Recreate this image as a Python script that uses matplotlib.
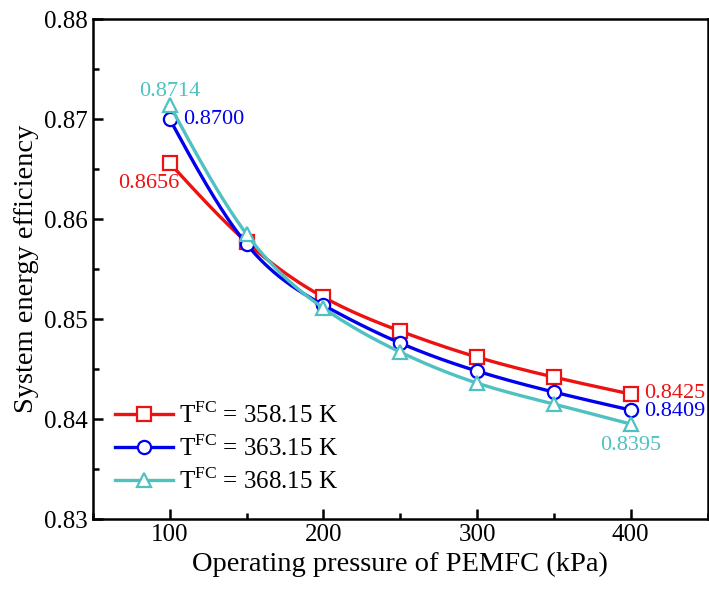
import numpy as np
import matplotlib.pyplot as plt
from matplotlib.ticker import MultipleLocator

plt.rcParams['font.family'] = ['Liberation Serif', 'DejaVu Serif']
plt.rcParams['mathtext.fontset'] = 'custom'
plt.rcParams['mathtext.rm'] = 'Liberation Serif'

# Data
pressure = [100, 150, 200, 250, 300, 350, 400]
eff_358 = [0.8656, 0.8577, 0.8522, 0.8488, 0.8462, 0.8442, 0.8425]
eff_363 = [0.8700, 0.8575, 0.8514, 0.8476, 0.8448, 0.8427, 0.8409]
eff_368 = [0.8714, 0.8585, 0.8511, 0.8467, 0.8436, 0.8415, 0.8395]
labels = [r'T$^{\mathrm{FC}}$ = 358.15 K', r'T$^{\mathrm{FC}}$ = 363.15 K',
          r'T$^{\mathrm{FC}}$ = 368.15 K']
colors = ['#ee1111', '#0000ee', '#4fc1c1']
markers = ['s', 'o', '^']


# natural cubic spline for the smoothed connecting line
def spline(x, y, n=200):
    x = np.asarray(x, float)
    y = np.asarray(y, float)
    m = len(x)
    h = np.diff(x)
    A = np.zeros((m, m))
    b = np.zeros(m)
    A[0, 0] = A[-1, -1] = 1
    for i in range(1, m - 1):
        A[i, i - 1] = h[i - 1]
        A[i, i] = 2 * (h[i - 1] + h[i])
        A[i, i + 1] = h[i]
        b[i] = 3 * ((y[i + 1] - y[i]) / h[i] - (y[i] - y[i - 1]) / h[i - 1])
    c = np.linalg.solve(A, b)
    xs = np.linspace(x[0], x[-1], n)
    ys = np.empty_like(xs)
    for k, xv in enumerate(xs):
        i = min(np.searchsorted(x, xv, side='right') - 1, m - 2)
        bi = (y[i + 1] - y[i]) / h[i] - h[i] * (2 * c[i] + c[i + 1]) / 3
        di = (c[i + 1] - c[i]) / (3 * h[i])
        t = xv - x[i]
        ys[k] = y[i] + bi * t + c[i] * t ** 2 + di * t ** 3
    return xs, ys


fig = plt.figure(figsize=(7.09, 5.98), dpi=100)
ax = fig.add_axes([0.131, 0.132, 0.867, 0.836])

for ys, lab, col, mk in zip([eff_358, eff_363, eff_368], labels, colors, markers):
    sx, sy = spline(pressure, ys)
    ax.plot(sx, sy, color=col, lw=2.4)
    ax.plot(pressure, ys, linestyle='none', marker=mk, ms=9.5, mfc='white',
            mec=col, mew=1.6)
    ax.plot([], [], color=col, lw=2.4, marker=mk, ms=9.5, mfc='white',
            mec=col, mew=1.6, label=lab)

# end-point annotations
fs = 16
ax.text(106, eff_358[0] - 0.0020, f'{eff_358[0]:.4f}', color=colors[0],
        fontsize=fs, ha='right', va='center')
ax.text(109, eff_363[0], f'{eff_363[0]:.4f}', color=colors[1],
        fontsize=fs, ha='left', va='center')
ax.text(100, eff_368[0] + 0.0004, f'{eff_368[0]:.4f}', color=colors[2],
        fontsize=fs, ha='center', va='bottom')
ax.text(409, eff_358[-1] + 0.0001, f'{eff_358[-1]:.4f}', color=colors[0],
        fontsize=fs, ha='left', va='center')
ax.text(409, eff_363[-1] - 0.0001, f'{eff_363[-1]:.4f}', color=colors[1],
        fontsize=fs, ha='left', va='center')
ax.text(400, eff_368[-1] - 0.0012, f'{eff_368[-1]:.4f}', color=colors[2],
        fontsize=fs, ha='center', va='top')

ax.set_xlim(50, 450)
ax.set_ylim(0.83, 0.88)
ax.xaxis.set_major_locator(MultipleLocator(100))
ax.xaxis.set_minor_locator(MultipleLocator(50))
ax.yaxis.set_major_locator(MultipleLocator(0.01))
ax.yaxis.set_minor_locator(MultipleLocator(0.005))
ax.tick_params(which='both', direction='in', top=False, right=False,
               width=1.8, labelsize=18)
ax.tick_params(which='major', length=7)
ax.tick_params(which='minor', length=4)
for s in ax.spines.values():
    s.set_linewidth(1.8)

ax.set_xlabel('Operating pressure of PEMFC (kPa)', fontsize=20.5)
ax.set_ylabel('System energy efficiency', fontsize=20.5)

ax.legend(loc='lower left', frameon=False, fontsize=18, borderaxespad=0,
          bbox_to_anchor=(0.02, 0.03), handlelength=2.3, handletextpad=0.25,
          labelspacing=0.3)

fig.savefig('out.png', dpi=100)
